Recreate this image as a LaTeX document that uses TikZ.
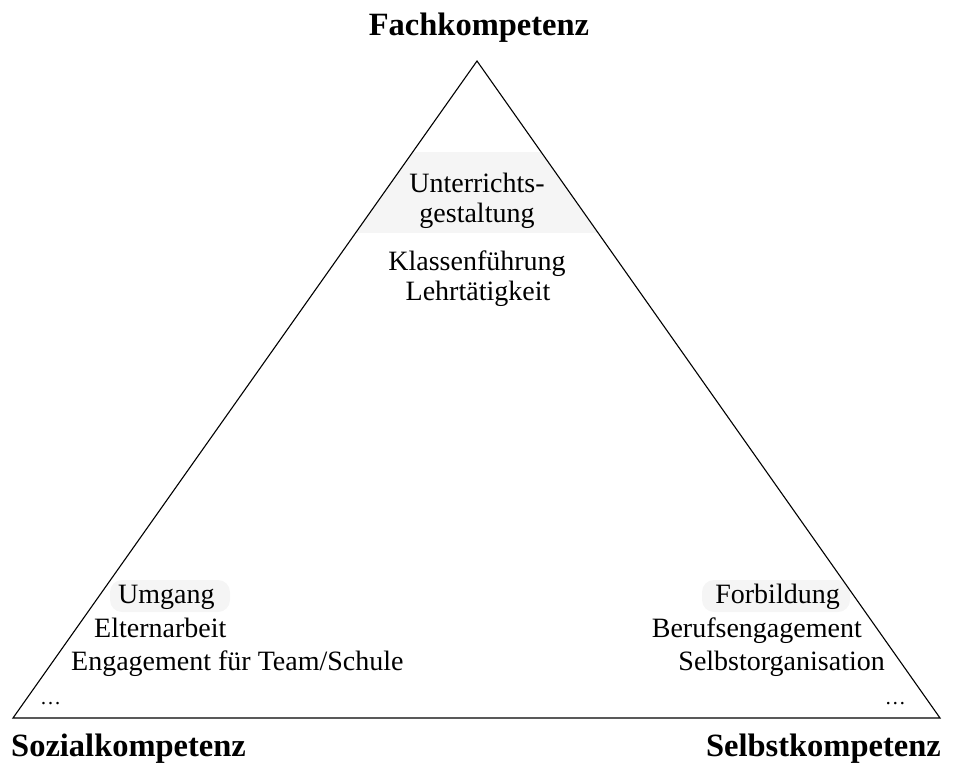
\documentclass[tikz,border=0pt]{standalone}
\usepackage{fontspec}
\setmainfont{Liberation Serif}
\begin{document}
\begin{tikzpicture}[x=1pt,y=-1pt,
  lbl/.style={font=\fontsize{32.5}{34}\selectfont\bfseries, inner sep=0pt},
  txt/.style={font=\fontsize{28}{30}\selectfont, inner sep=0pt},
  dots/.style={font=\fontsize{21}{23}\selectfont, inner sep=0pt},
  halo/.style={fill=black!4, draw=none}]
\useasboundingbox (0,0) rectangle (953,765);
\coordinate (top) at (477,61);
\coordinate (bl) at (13,718);
\coordinate (br) at (940,718);
% faint shading behind the headings
\begin{scope}
  \clip (top) -- (bl) -- (br) -- cycle;
  \fill[halo] (300,152) rectangle (660,233);
\end{scope}
\fill[halo, rounded corners=12pt] (110,580) rectangle (230,612);
\fill[halo, rounded corners=12pt] (702,580) rectangle (850,612);
% triangle
\draw[line width=1.1pt] (top) -- (bl) -- (br) -- cycle;
% corner labels
\node[lbl, anchor=base] (fach) at (479,36) {Fachkompetenz};
\node[lbl, anchor=base west] (sozial) at (11,756) {Sozialkompetenz};
\node[lbl, anchor=base east] (selbst) at (941,756) {Selbstkompetenz};
% top block
\node[txt, anchor=base] (u1) at (477,192) {Unterrichts-};
\node[txt, anchor=base] (u2) at (477,222) {gestaltung};
\node[txt, anchor=base] (u3) at (477,270) {Klassenführung};
\node[txt, anchor=base] (u4) at (478,300) {Lehrtätigkeit};
% left block
\node[txt, anchor=base west] (l1) at (118,603) {Umgang};
\node[txt, anchor=base west] (l2) at (94,637) {Elternarbeit};
\node[txt, anchor=base west] (l3) at (71,670) {Engagement für Team/Schule};
\node[dots, anchor=base west] (l4) at (40,704) {…};
% right block
\node[txt, anchor=base east] (r1) at (840,603) {Forbildung};
\node[txt, anchor=base east] (r2) at (862,637) {Berufsengagement};
\node[txt, anchor=base east] (r3) at (885,670) {Selbstorganisation};
\node[dots, anchor=base east] (r4) at (906,704) {…};
\end{tikzpicture}
\end{document}
